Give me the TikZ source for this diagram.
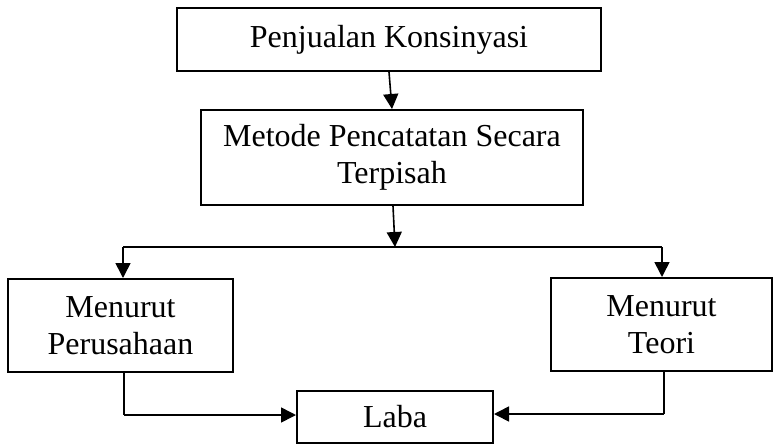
\documentclass[tikz,border=0pt]{standalone}
\usepackage{fontspec}
\setmainfont{Liberation Serif}
\usetikzlibrary{arrows.meta}
\tikzset{
  box/.style={draw=black, line width=2pt, inner sep=0pt, align=center,
    font=\fontsize{32}{37}\selectfont},
  conn/.style={line width=1.6pt, draw=black},
  arr/.style={conn, -{Triangle[length=15pt,width=15pt]}}
}
\begin{document}
\begin{tikzpicture}[x=1pt,y=-1pt]
\useasboundingbox (0,0) rectangle (774,445);
\node[box, minimum width=424pt, minimum height=63pt] (b1) at (389,39.5) {Penjualan Konsinyasi};
\node[box, minimum width=382pt, minimum height=95pt] (b2) at (392,157.5) {Metode Pencatatan Secara\\Terpisah};
\node[box, minimum width=225pt, minimum height=93pt] (b3) at (120.5,325.5) {Menurut\\Perusahaan};
\node[box, minimum width=221pt, minimum height=93pt] (b4) at (661.5,324.5) {Menurut\\Teori};
\node[box, minimum width=196pt, minimum height=52pt] (b5) at (395,417) {Laba};
\coordinate (split) at (395,247);
\coordinate (hl) at (123,247);
\coordinate (hr) at (662,247);
\coordinate (bl) at (124,415);
\coordinate (br) at (664,414);
\draw[arr] (b1.south) -- (b2.north);
\draw[arr] ([xshift=1pt]b2.south) -- (split);
\draw[conn] (hl) -- (hr);
\draw[arr] (hl) -- (hl |- b3.north);
\draw[arr] (hr) -- (hr |- b4.north);
\draw[conn] (b3.south -| bl) -- (bl);
\draw[arr] (bl) -- (b5.west |- bl);
\draw[conn] (b4.south -| br) -- (br);
\draw[arr] (br) -- (b5.east |- br);
\end{tikzpicture}
\end{document}
